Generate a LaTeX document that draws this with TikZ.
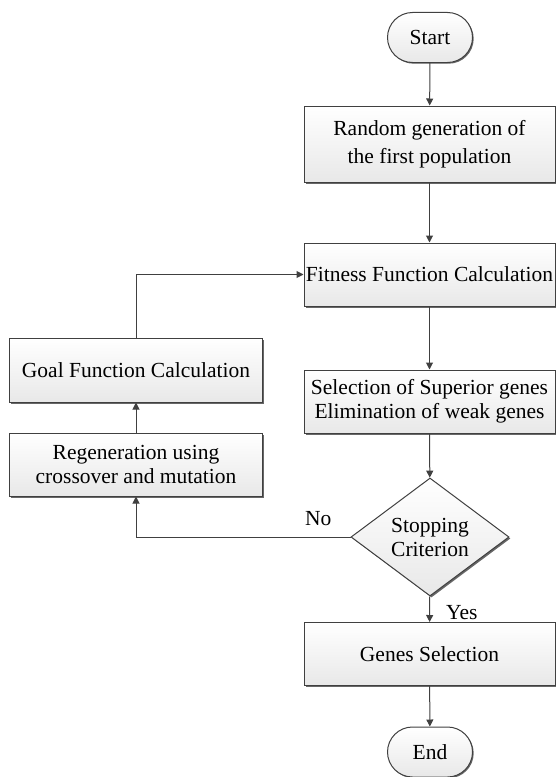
\documentclass[tikz,border=0pt]{standalone}
\usepackage{fontspec}
\setmainfont{Liberation Serif}
\usetikzlibrary{arrows.meta,shapes.geometric,shadows}
\begin{document}
\begin{tikzpicture}[x=1bp,y=-1bp,>={Triangle[length=7bp,width=7bp]},line width=1bp,
    proc_box/.style={rectangle, draw=black!75, top color=white, bottom color=black!9, minimum width=251bp, minimum height=63bp, inner sep=0pt, align=center, font=\fontsize{21.5bp}{24bp}\selectfont, drop shadow={shadow xshift=1.5bp, shadow yshift=-1.5bp, opacity=0.85, fill=black!70}},
    term_node/.style={rectangle, rounded corners=25bp, draw=black!75, top color=white, bottom color=black!9, minimum width=85bp, minimum height=50bp, inner sep=0pt, font=\fontsize{21.5bp}{24bp}\selectfont, drop shadow={shadow xshift=1.2bp, shadow yshift=-1.2bp, opacity=0.85, fill=black!70}},
    crit/.style={diamond, shape aspect=1.34, draw=black!75, top color=white, bottom color=black!9, minimum width=158bp, minimum height=118bp, inner sep=0pt, align=center, font=\fontsize{21.5bp}{24bp}\selectfont, drop shadow={shadow xshift=1.5bp, shadow yshift=-1.5bp, opacity=0.85, fill=black!70}},
    lbl/.style={font=\fontsize{21.5bp}{24bp}\selectfont, inner sep=1pt}]
    \useasboundingbox (0,0) rectangle (556,777);
    \node[term_node] (start) at (430,37.5) {Start};
    \node[proc_box, minimum height=76bp] (rand) at (429.5,144) {Random generation of\\[4bp]the first population};
    \node[proc_box] (fit) at (429.5,274.5) {Fitness Function Calculation};
    \node[proc_box] (sel) at (429.5,401.5) {Selection of Superior genes\\Elimination of weak genes};
    \node[crit] (stop) at (430,537) {Stopping\\Criterion};
    \node[proc_box] (genes) at (429.5,654) {Genes Selection};
    \node[term_node] (end) at (430,752) {End};
    \node[proc_box, minimum width=252bp, minimum height=64bp] (goal) at (136,370) {Goal Function Calculation};
    \node[proc_box, minimum width=252bp] (regen) at (136,464.5) {Regeneration using\\crossover and mutation};
    \draw[->, draw=black!75] (start) -- (rand);
    \draw[->, draw=black!75] (rand) -- (fit);
    \draw[->, draw=black!75] (fit) -- (sel);
    \draw[->, draw=black!75] (sel) -- (stop);
    \draw[->, draw=black!75] (stop) -- node[lbl, anchor=west, xshift=15bp, yshift=-3bp] {Yes} (genes);
    \draw[->, draw=black!75] (genes) -- (end);
    \draw[->, draw=black!75] (stop.west) -- node[lbl, anchor=south, pos=0.15, yshift=10bp] {No} (stop.west -| regen.south) -- (regen.south);
    \draw[->, draw=black!75] (regen) -- (goal);
    \draw[->, draw=black!75] (goal.north) |- (fit.west);
\end{tikzpicture}
\end{document}
